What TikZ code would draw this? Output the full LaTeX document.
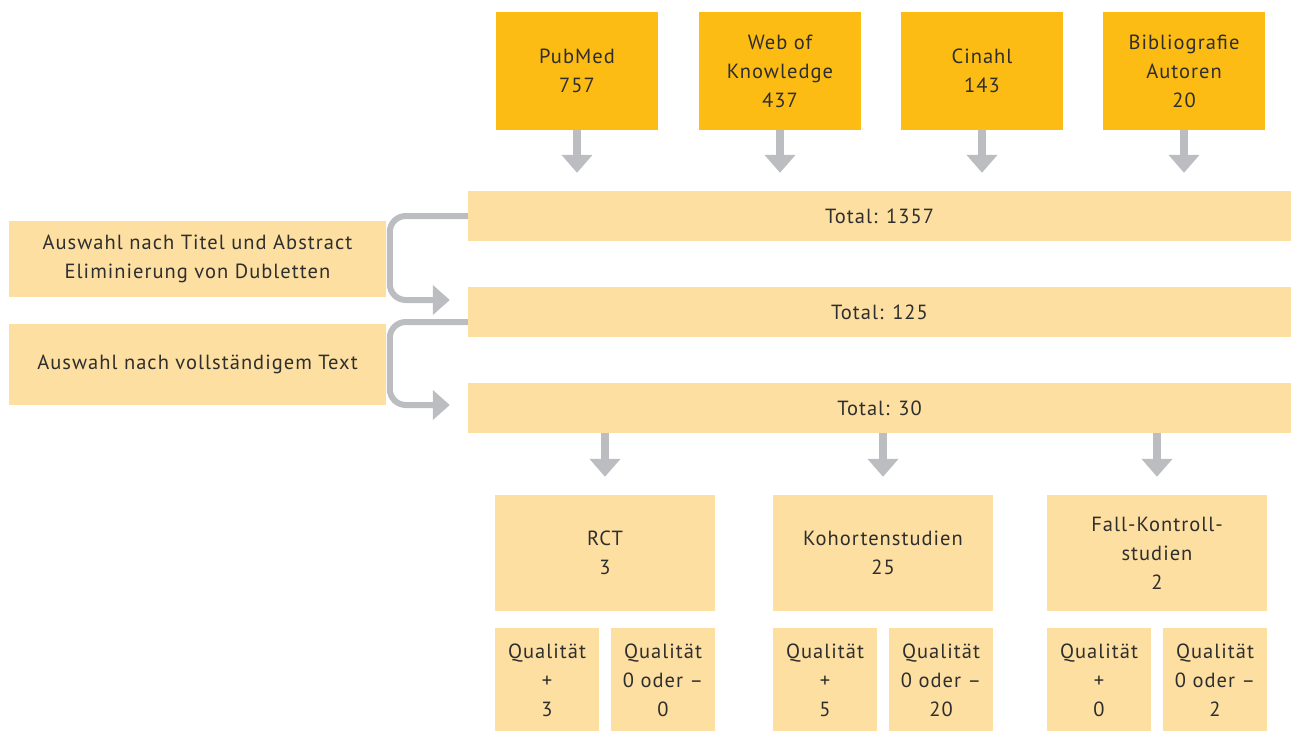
\documentclass[tikz,border=0pt]{standalone}
\usepackage{fontspec}
\setmainfont[LetterSpace=5]{PT Sans}
\usetikzlibrary{arrows.meta}

\definecolor{srcyellow}{HTML}{FCBC14}
\definecolor{lightyellow}{HTML}{FDDFA1}
\definecolor{arrowgray}{HTML}{BCBDC0}
\definecolor{textgray}{HTML}{2E2E2E}

\begin{document}
\begin{tikzpicture}[x=1pt,y=-1pt,
    every node/.style={text=textgray,font=\fontsize{20.5}{29}\selectfont,align=center,inner sep=0pt},
    srcbox/.style={fill=srcyellow,minimum width=162pt,minimum height=118pt},
    totbox/.style={fill=lightyellow,minimum width=823pt,minimum height=50pt},
    sidebox/.style={fill=lightyellow,minimum width=377pt},
    studybox/.style={fill=lightyellow,minimum width=220pt,minimum height=116pt},
    qbox/.style={fill=lightyellow,minimum width=104pt,minimum height=103pt},
    downarrow/.style={arrowgray,line width=8pt,-{Triangle[width=30pt,length=18pt]},shorten >=18pt},
    bendarrow/.style={arrowgray,line width=6pt,rounded corners=16pt,-{Triangle[width=29pt,length=17pt]}}]
        \useasboundingbox (0,0) rectangle (1291,731);

        % the totals
        \node[totbox] (tot1) at (879.5,216) {Total: 1357};
        \node[totbox] (tot2) at (879.5,312) {Total: 125};
        \node[totbox] (tot3) at (879.5,408) {Total: 30};

        % the databases
        \foreach \name/\x/\txt in {
            pub/577/PubMed\\757,
            wok/780/Web of\\Knowledge\\437,
            cin/982/Cinahl\\143,
            bib/1184/Bibliografie\\Autoren\\20} {
                \node[srcbox] (\name) at (\x,71) {\txt};
                \draw[downarrow] (\name.south) -- (\name.south |- tot1.north);
        }

        % the selection steps
        \node[sidebox,minimum height=76pt] (sel1) at (197.5,259) {Auswahl nach Titel und Abstract\\Eliminierung von Dubletten};
        \node[sidebox,minimum height=81pt] (sel2) at (197.5,364.5) {Auswahl nach vollständigem Text};

        \coordinate (in2) at ([xshift=-18pt,yshift=12pt]tot2.west);
        \coordinate (in3) at ([xshift=-18pt,yshift=3pt]tot3.west);
        \draw[bendarrow] (tot1.west) -- ++(-78,0) |- (in2);
        \draw[bendarrow] ([yshift=-10pt]tot2.west) -- ++(-78,0) |- (in3);

        % the kinds of study
        \foreach \name/\x/\txt/\good/\bad in {
            rct/605/RCT\\3/3/0,
            koh/883/Kohortenstudien\\25/5/20,
            fal/1157/Fall-Kontroll-\\studien\\2/0/2} {
                \node[studybox] (\name) at (\x,553) {\txt};
                \draw[downarrow] (\name.north |- tot3.south) -- (\name.north);
                \node[qbox,anchor=north west] (\name good) at ([yshift=-17pt]\name.south west) {Qualität\\+\\\good};
                \node[qbox,anchor=north east] (\name bad) at ([yshift=-17pt]\name.south east) {Qualität\\0 oder –\\\bad};
        }
\end{tikzpicture}
\end{document}
